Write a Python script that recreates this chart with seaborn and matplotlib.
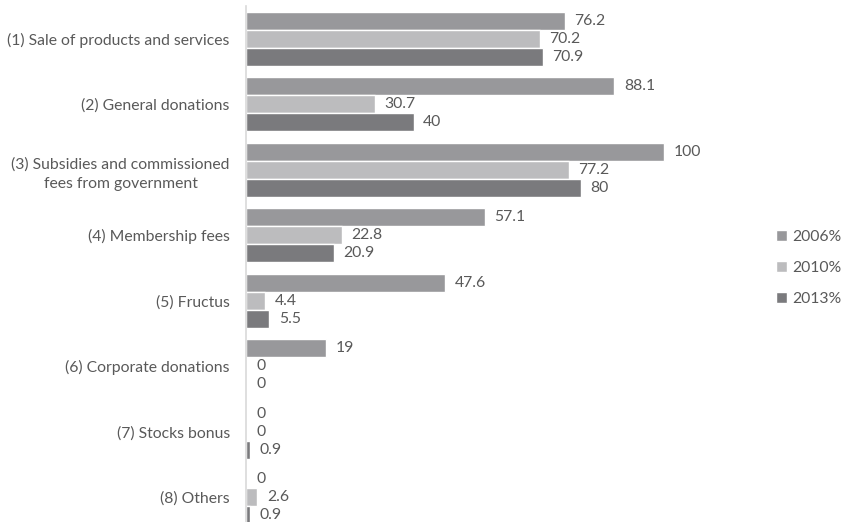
import matplotlib
matplotlib.use("Agg")
import matplotlib.pyplot as plt
import seaborn as sns
import pandas as pd

categories = [
    "(1) Sale of products and services",
    "(2) General donations",
    "(3) Subsidies and commissioned\nfees from government",
    "(4) Membership fees",
    "(5) Fructus",
    "(6) Corporate donations",
    "(7) Stocks bonus",
    "(8) Others",
]
series_names = ["2006%", "2010%", "2013%"]
v2006 = [76.2, 88.1, 100, 57.1, 47.6, 19, 0, 0]
v2010 = [70.2, 30.7, 77.2, 22.8, 4.4, 0, 0, 2.6]
v2013 = [70.9, 40, 80, 20.9, 5.5, 0, 0.9, 0.9]
colors = ["#98989b", "#bcbcbe", "#7a7a7d"]

rows = []
for name, vals in zip(series_names, [v2006, v2010, v2013]):
    for c, v in zip(categories, vals):
        rows.append({"category": c, "series": name, "value": v})
df = pd.DataFrame(rows)

sns.set_theme(style="white")
plt.rcParams["font.family"] = ["Lato", "DejaVu Sans"]
text_color = "#595959"

fig = plt.figure(figsize=(8.41, 5.22), dpi=100)
ax = fig.add_axes([246.5 / 841, -8 / 522, 501 / 841, 524 / 522])

sns.barplot(data=df, y="category", x="value", hue="series", orient="h",
            palette=colors, width=0.82, ax=ax, legend=True, saturation=1)

for cont in ax.containers:
    labels = [f"{v:g}" for v in cont.datavalues]
    ax.bar_label(cont, labels=labels, padding=7, fontsize=11.3, color=text_color)

ax.set_xlim(0, 120)
ax.set_ylim(7.5, -0.5)
ax.set_xlabel("")
ax.set_ylabel("")
ax.set_xticks([])
ax.tick_params(axis="y", length=0, pad=12, labelsize=11.3, labelcolor=text_color)
for s in ["top", "right", "bottom"]:
    ax.spines[s].set_visible(False)
ax.spines["left"].set_color("#d9d9d9")
ax.spines["left"].set_linewidth(1.2)

for lab in ax.get_yticklabels():
    lab.set_horizontalalignment("right")
    lab.set_multialignment("center")
    lab.set_linespacing(1.55)

handles, labs = ax.get_legend_handles_labels()
leg = ax.legend(handles, labs, loc="center left", bbox_to_anchor=(776 / 841, 254 / 522),
                bbox_transform=fig.transFigure, frameon=False, fontsize=11.3,
                handlelength=0.7, handleheight=0.7, handletextpad=0.35,
                labelspacing=1.1, labelcolor=text_color, borderaxespad=0, borderpad=0)

fig.savefig("out.png", dpi=100)
